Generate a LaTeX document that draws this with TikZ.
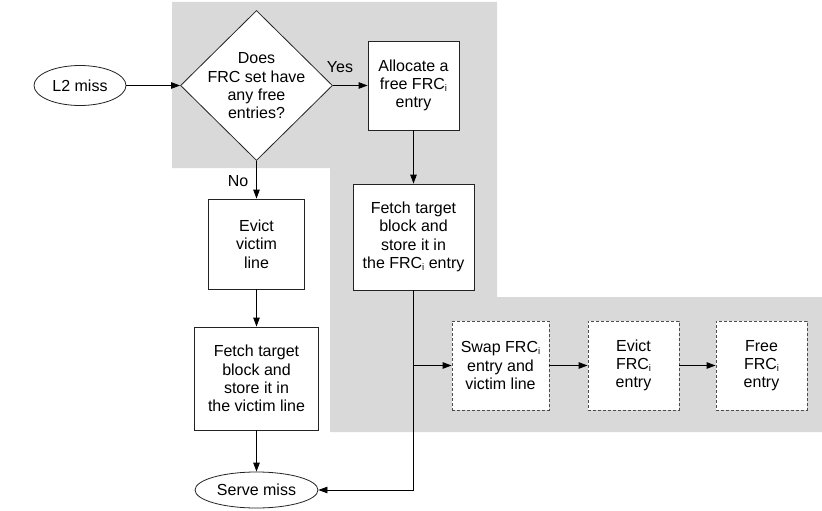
\documentclass[tikz,border=0pt]{standalone}
\usepackage{fontspec}
\setmainfont{Liberation Sans}
\usetikzlibrary{shapes.geometric,arrows.meta}
\definecolor{bggray}{RGB}{217,217,217}
\definecolor{edgecol}{RGB}{35,35,35}
\newcommand{\frci}{FRC\raisebox{-0.2ex}{\fontsize{9.5}{9.5}\selectfont i}}
\begin{document}
\begin{tikzpicture}[x=1pt,y=-1pt,
  font=\fontsize{16}{18.3}\selectfont,
  procbox/.style={draw=edgecol, fill=white, line width=0.8pt, inner sep=0pt, align=center},
  dashbox/.style={procbox, draw=black!70, dash pattern=on 3pt off 2pt},
  term/.style={ellipse, draw=edgecol, fill=white, line width=0.8pt, inner sep=0pt, align=center},
  decision/.style={diamond, draw=edgecol, fill=white, line width=0.8pt, inner sep=0pt},
  txt/.style={align=center, inner sep=0pt},
  conn/.style={draw=black, line width=0.8pt, -{Triangle[length=9pt,width=6.5pt]}},
  lbl/.style={inner sep=0pt}]
\useasboundingbox (0,0) rectangle (822,511);
\fill[bggray] (172,2) -- (497,2) -- (497,297) -- (822,297) -- (822,432) -- (330,432) -- (330,168) -- (172,168) -- cycle;

\node[term, minimum width=92pt, minimum height=40pt] (l2) at (80,85.5) {L2 miss};
\node[decision, minimum width=152pt, minimum height=150pt] (dec) at (256.5,85.5) {};
\node[txt] (dectxt) at (256.5,86) {Does\\FRC set have\\any free\\entries?};
\node[procbox, minimum width=91pt, minimum height=89pt] (alloc) at (413.5,85.5) {Allocate a\\free \frci\\entry};
\node[procbox, minimum width=121pt, minimum height=106pt] (fetchr) at (413.5,237) {Fetch target\\block and\\store it in\\the \frci{} entry};
\node[procbox, minimum width=96pt, minimum height=90pt] (evict) at (256.5,244) {Evict\\victim\\line};
\node[procbox, minimum width=124pt, minimum height=103pt] (fetchl) at (256.5,378.5) {Fetch target\\block and\\store it in\\the victim line};
\node[term, minimum width=123pt, minimum height=36pt] (serve) at (256.5,490) {Serve miss};
\node[dashbox, minimum width=97pt, minimum height=89pt] (swap) at (500.5,365.5) {Swap \frci\\entry and\\victim line};
\node[dashbox, minimum width=91pt, minimum height=89pt] (evfrc) at (633.5,365.5) {Evict\\\frci\\entry};
\node[dashbox, minimum width=91pt, minimum height=89pt] (free) at (761.5,365.5) {Free\\\frci\\entry};

\draw[conn] (l2.east) -- (dec.west);
\draw[conn] (dec.east) -- (alloc.west);
\draw[conn] (alloc.south) -- (fetchr.north);
\draw[conn] (dec.south) -- (evict.north);
\draw[conn] (evict.south) -- (fetchl.north);
\draw[conn] (fetchl.south) -- (serve.north);
\draw[conn] (fetchr.south) |- (serve.east);
\coordinate (br) at (fetchr.south |- swap.west);
\draw[conn] (br) -- (swap.west);
\draw[conn] (swap.east) -- (evfrc.west);
\draw[conn] (evfrc.east) -- (free.west);

\node[lbl] (yes) at (340,67) {Yes};
\node[lbl] (no) at (238,181) {No};
\end{tikzpicture}
\end{document}
